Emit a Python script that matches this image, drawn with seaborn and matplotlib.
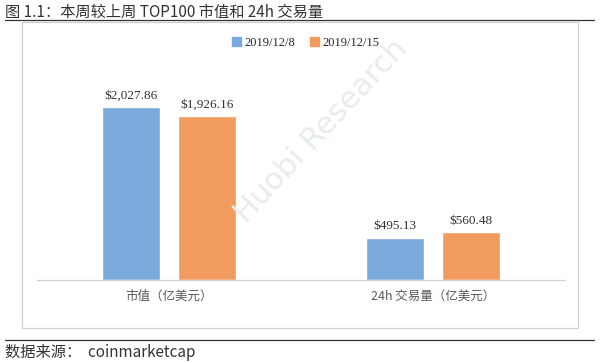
import matplotlib
matplotlib.use("Agg")
import matplotlib.pyplot as plt
import pandas as pd
import seaborn as sns
from matplotlib.patches import Rectangle
from matplotlib.lines import Line2D

# Data
categories = ["市值（亿美元）", "24h 交易量（亿美元）"]
dates = ["2019/12/8", "2019/12/15"]
values_dec8 = [2027.86, 495.13]
values_dec15 = [1926.16, 560.48]
colors = ["#7aaadb", "#f29b5f"]

df = pd.DataFrame({
    "category": categories * 2,
    "date": [dates[0]] * 2 + [dates[1]] * 2,
    "value": values_dec8 + values_dec15,
})

sns.set_theme(style="white")
plt.rcParams["font.family"] = ["Noto Sans CJK SC", "DejaVu Sans"]

fig = plt.figure(figsize=(6, 3.63), dpi=100)
fig.patch.set_facecolor("white")

# faint watermark
fig.text(0.535, 0.64, "Huobi Research", fontsize=22, color="#e6ecf0", rotation=47,
         ha="center", va="center", zorder=0, family="DejaVu Sans")

# Chart frame
fig.patches.append(Rectangle((0.037, 0.0964), 0.927, 0.843, transform=fig.transFigure,
                             fill=False, edgecolor="#d0d0d0", linewidth=0.9))
# Title rule and source rule
fig.lines.append(Line2D([0.008, 0.99], [0.945, 0.945], transform=fig.transFigure, color="#333333", linewidth=0.9))
fig.lines.append(Line2D([0.008, 0.99], [0.0634, 0.0634], transform=fig.transFigure, color="#333333", linewidth=0.9))

ax = fig.add_axes([0.0617, 0.2287, 0.88, 0.5868])
sns.barplot(data=df, x="category", y="value", hue="date", palette=colors, saturation=1,
            width=0.572, gap=0.23, ax=ax, legend=False)

ax.set_ylim(0, 2500)
ax.set_xlim(-0.5, 1.5)
ax.set_yticks([])
ax.set_xlabel("")
ax.set_ylabel("")
for s in ["top", "left", "right"]:
    ax.spines[s].set_visible(False)
ax.spines["bottom"].set_color("#d0d0d0")
ax.spines["bottom"].set_linewidth(0.9)
ax.tick_params(axis="x", length=0, pad=7, labelsize=9, labelcolor="#595959")
ax.set_facecolor("none")

for cont in ax.containers:
    ax.bar_label(cont, labels=["${:,.2f}".format(v) for v in cont.datavalues],
                 padding=4, fontsize=9.5, family="Liberation Serif", color="#333333")

# Legend
handles = [Rectangle((0, 0), 1, 1, color=c) for c in colors]
fig.legend(handles, dates, loc="center", bbox_to_anchor=(0.51, 0.881), ncol=2,
           frameon=False, prop={"family": "Liberation Serif", "size": 9},
           handlelength=0.7, handleheight=0.7, handletextpad=0.3, columnspacing=1.2)

fig.text(0.008, 0.967, "图 1.1：本周较上周 TOP100 市值和 24h 交易量", fontsize=11,
         color="#333333", va="center", ha="left")
fig.text(0.008, 0.03, "数据来源：  coinmarketcap", fontsize=11,
         color="#333333", va="center", ha="left")

fig.savefig("out.png", dpi=100)
